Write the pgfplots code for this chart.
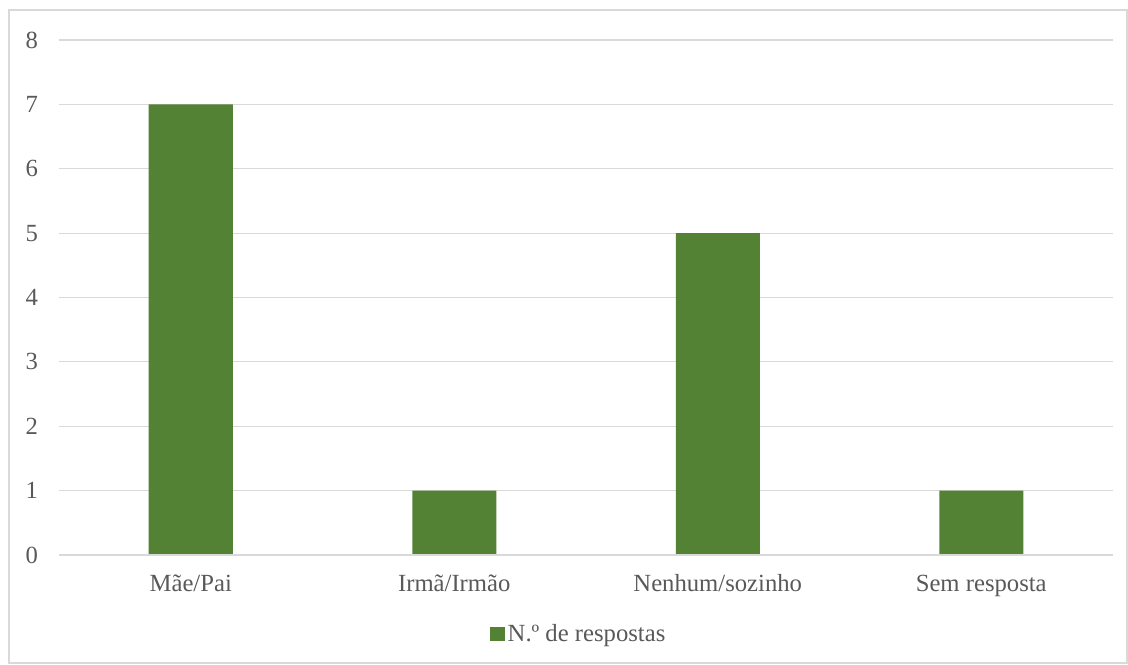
\documentclass[border=0pt]{standalone}
\usepackage{pgfplots}
\pgfplotsset{compat=1.18}
\usepackage{fontspec}
\setmainfont{Liberation Serif}
\definecolor{barg}{HTML}{548235}
\definecolor{gridc}{HTML}{D9D9D9}
\definecolor{txt}{HTML}{595959}
\begin{document}
\begin{tikzpicture}[x=0.75pt,y=0.75pt]
\begin{axis}[
  at={(0,0)}, anchor=south west,
  scale only axis,
  width=790.5pt, height=386.25pt,
  xmin=-0.5, xmax=3.5, ymin=0, ymax=8,
  ytick={0,...,8},
  xtick={0,1,2,3},
  xticklabels={Mãe/Pai,Irmã/Irmão,Nenhum/sozinho,Sem resposta},
  axis line style={draw=none},
  axis x line*=bottom,
  tick style={draw=none},
  ymajorgrids, grid style={gridc, line width=0.9pt},
  tick label style={font=\fontsize{18.5}{22}\selectfont, text=txt},
  /pgf/number format/assume math mode=true,
  yticklabel style={anchor=east, inner sep=0pt, xshift=-15.5pt},
  xticklabel style={anchor=base, inner sep=0pt, yshift=-27pt},
  legend style={draw=none, at={(0.4934,-0.1534)}, anchor=center, font=\fontsize{18.5}{22}\selectfont, text=txt, inner sep=0pt, /tikz/every even column/.append style={column sep=0pt}},
  legend image code/.code={\fill[#1] (0pt,-5.6pt) rectangle (11.25pt,5.6pt);},
  legend cell align=left,
]
\addplot[ybar, bar width=63pt, fill=barg, draw=none] coordinates {(0,7) (1,1) (2,5) (3,1)};
\addlegendentry{N.º de respostas}
\draw[gridc, line width=0.9pt] (axis cs:-0.5,0) -- (axis cs:3.5,0);
\end{axis}
\useasboundingbox (-59,-109) rectangle (1069,555);
\draw[gridc, line width=1.2pt] (-50,-108) rectangle (1068,545);
\end{tikzpicture}
\end{document}
